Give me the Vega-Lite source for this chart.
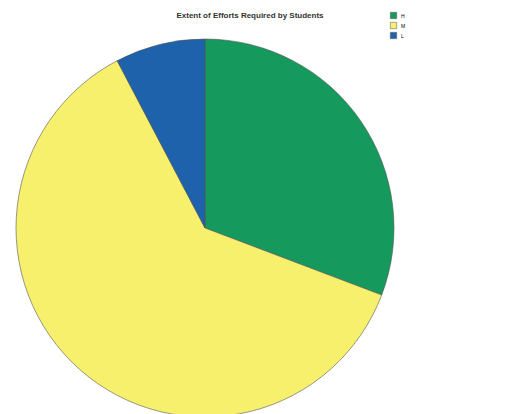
{
  "$schema": "https://vega.github.io/schema/vega-lite/v6.json",
  "width": 410,
  "height": 456,
  "autosize": "none",
  "padding": 0,
  "background": "white",
  "title": {"text": "Extent of Efforts Required by Students", "orient": "top", "offset": -20, "dx": 45, "fontSize": 8, "font": "Liberation Sans", "fontWeight": "bold", "color": "#333"},
  "data": {"values": [
    {"level": "H", "order": 1, "count": 4},
    {"level": "M", "order": 2, "count": 8},
    {"level": "L", "order": 3, "count": 1}
  ]},
  "mark": {"type": "arc", "radius": 189, "stroke": "#555", "strokeWidth": 0.6},
  "encoding": {
    "theta": {"field": "count", "type": "quantitative", "stack": true},
    "order": {"field": "order"},
    "color": {"field": "level", "type": "nominal", "sort": ["H", "M", "L"],
      "scale": {"domain": ["H", "M", "L"], "range": ["#16995c", "#f6f06c", "#1f62ac"]},
      "legend": {"title": null, "orient": "none", "legendX": 390, "legendY": 12, "symbolType": "square", "symbolSize": 40, "labelFontSize": 5, "rowPadding": 1, "symbolStrokeColor": "#555", "symbolStrokeWidth": 0.5}}
  },
  "config": {"view": {"stroke": null}}
}
